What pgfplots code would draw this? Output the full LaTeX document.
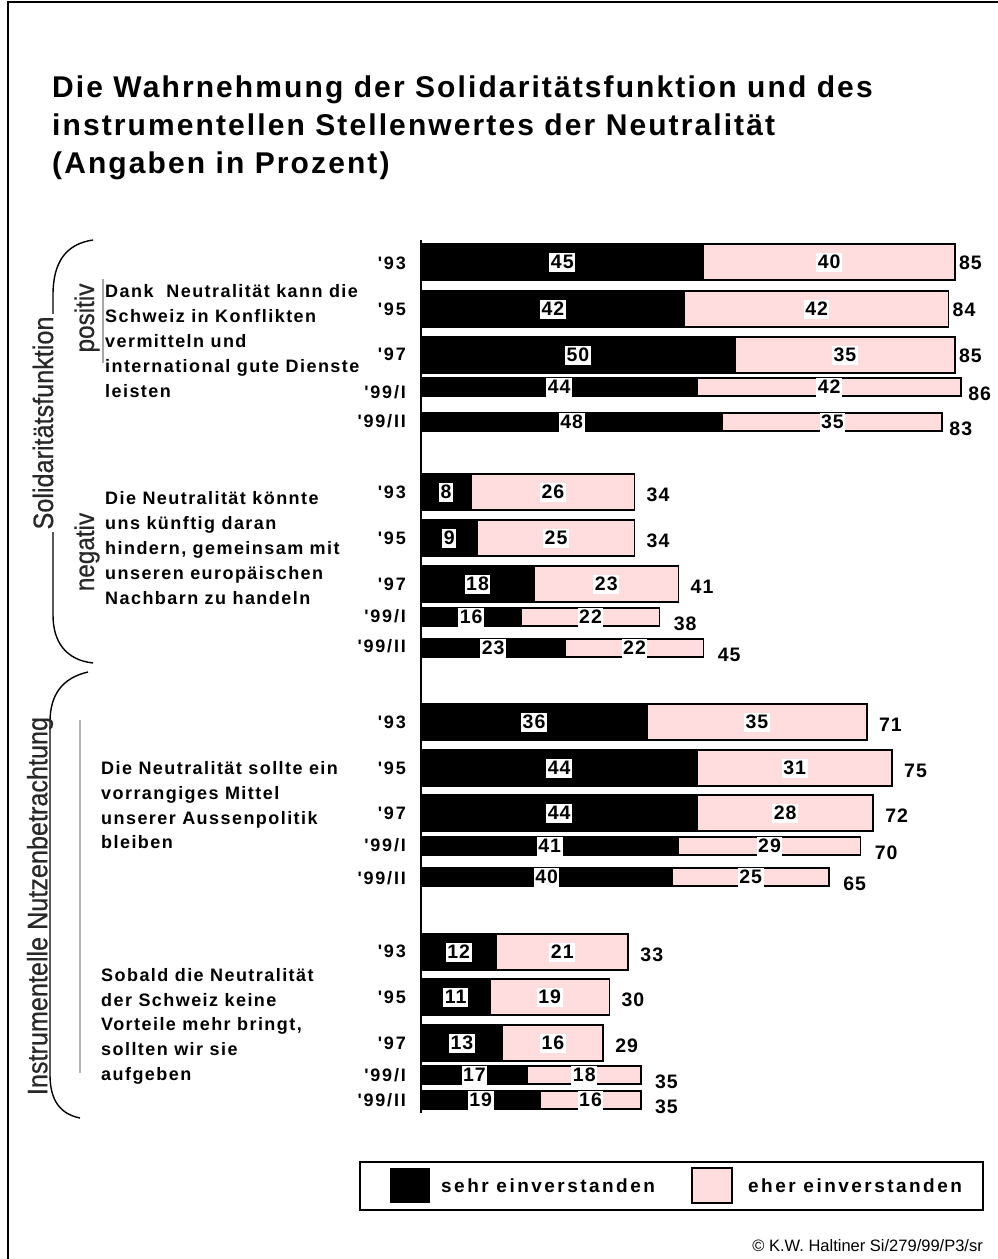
\documentclass[border=0pt]{standalone}
\usepackage{pgfplots}
\pgfplotsset{compat=1.18}
\usepackage{fontspec}
\setmainfont{Liberation Sans}
\newfontfamily\lspT[LetterSpace=7]{Liberation Sans}
\newfontfamily\lspQ[LetterSpace=8]{Liberation Sans}
\newfontfamily\lspY[LetterSpace=10,Ligatures=TeXOff]{Liberation Sans}
\newfontfamily\lspL[LetterSpace=13]{Liberation Sans}
\newfontfamily\lspB[LetterSpace=5]{Liberation Sans}
\newfontfamily\narrow[FakeStretch=0.9,FakeBold=0.6]{Liberation Sans}
\definecolor{rosa}{RGB}{255,221,222}
\definecolor{dgrey}{RGB}{40,40,40}
\newcommand\numfont{\lspB\bfseries\fontsize{19.5}{19.5}\selectfont}
\newcommand\yrfont{\lspY\bfseries\fontsize{18}{18}\selectfont}
\newcommand\qfont{\lspQ\bfseries\fontsize{18}{25}\selectfont}

\pgfplotsset{
  pinkbar/.style={xbar, bar shift=0pt, fill=rosa, draw=black, line width=1.6pt},
  blackbar/.style={xbar, bar shift=0pt, fill=black, draw=black, line width=0.6pt},
  lab/.style={only marks, mark=*, mark size=0.01pt, mark options={draw=none, fill=none},
    nodes near coords, point meta=explicit symbolic},
  inner/.style={lab, nodes near coords style={font=\numfont, anchor=center, fill=white,
    inner xsep=1.5pt, inner ysep=2pt, text height=14pt, text depth=1pt}},
  total/.style={lab, nodes near coords style={font=\numfont, anchor=west, inner sep=0pt,
    text height=14pt, text depth=0pt, #1}},
}

\begin{document}
\begin{tikzpicture}[x=1pt,y=1pt]
\useasboundingbox (0,0) rectangle (997,1259);
\begin{axis}[
  at={(0,0)}, anchor=south west,
  scale only axis, width=997pt, height=1259pt,
  xmin=-67.04, xmax=91.72, ymin=0, ymax=1259, y dir=reverse,
  hide axis, clip=false,
]
% full rows: total (pink) first, "sehr" (black) drawn over it
\addplot[pinkbar, bar width=36] coordinates {
  (85,262) (84,309) (85,355)
  (34,492) (34,538) (41,584)
  (71,722) (75,768) (72,813)
  (33,952) (30,997) (29,1043)};
\addplot[blackbar, bar width=36] coordinates {
  (45,262) (42,309) (50,355)
  (8,492) (9,538) (18,584)
  (36,722) (44,768) (44,813)
  (12,952) (11,997) (13,1043)};
% thin rows ('99/I, '99/II)
\addplot[pinkbar, bar width=18] coordinates {
  (86,387) (83,422) (38,617) (45,648) (70,846) (65,877) (35,1075) (35,1100)};
\addplot[blackbar, bar width=18] coordinates {
  (44,387) (48,422) (16,617) (23,648) (41,846) (40,877) (17,1075) (19,1100)};

% values inside the segments
\addplot[inner] coordinates {
  (22.5,262) [45] (65,262) [40]
  (21,309) [42] (63,309) [42]
  (25,355) [50] (67.5,355) [35]
  (22,387) [44] (65,387) [42]
  (24,422) [48] (65.5,422) [35]
  (4,492) [8] (21,492) [26]
  (4.5,538) [9] (21.5,538) [25]
  (9,584) [18] (29.5,584) [23]
  (8,617) [16] (27,617) [22]
  (11.5,648) [23] (34,648) [22]
  (18,722) [36] (53.5,722) [35]
  (22,768) [44] (59.5,768) [31]
  (22,813) [44] (58,813) [28]
  (20.5,846) [41] (55.5,846) [29]
  (20,877) [40] (52.5,877) [25]
  (6,952) [12] (22.5,952) [21]
  (5.5,997) [11] (20.5,997) [19]
  (6.5,1043) [13] (21,1043) [16]
  (8.5,1075) [17] (26,1075) [18]
  (9.5,1100) [19] (27,1100) [16]};

% totals
\addplot[total={xshift=4pt}] coordinates {(85,262) [85] (84,309) [84] (85,355) [85]};
\addplot[total={xshift=7pt, yshift=-6pt}] coordinates {(86,387) [86] (83,422) [83]};
\addplot[total={xshift=12pt, yshift=-2pt}] coordinates {
  (34,492) [34] (34,538) [34] (41,584) [41]
  (71,722) [71] (75,768) [75] (72,813) [72]
  (33,952) [33] (30,997) [30] (29,1043) [29]};
\addplot[total={xshift=14pt, yshift=-6pt}] coordinates {
  (38,617) [38] (45,648) [45] (70,846) [70] (65,877) [65] (35,1075) [35] (35,1100) [35]};

% survey waves
\addplot[lab, nodes near coords style={font=\yrfont, anchor=east, xshift=-15pt, inner sep=0pt,
    text height=13pt, text depth=0pt}] coordinates {
  (0,263) ['93] (0,309) ['95] (0,354) ['97] (0,392) ['99/I] (0,421) ['99/II]
  (0,492) ['93] (0,538) ['95] (0,584) ['97] (0,616) ['99/I] (0,646) ['99/II]
  (0,722) ['93] (0,768) ['95] (0,813) ['97] (0,845) ['99/I] (0,878) ['99/II]
  (0,951) ['93] (0,997) ['95] (0,1043) ['97] (0,1075) ['99/I] (0,1100) ['99/II]};
\end{axis}

\begin{scope}[shift={(0,1259)}, y=-1pt]
% frame
\draw[line width=1.5] (8,1600) -- (8,2) -- (1200,2);
% title
\foreach \t/\yy in {{Die Wahrnehmung der Solidaritätsfunktion und des}/98,
                    {instrumentellen Stellenwertes der Neutralität}/136,
                    {(Angaben in Prozent)}/174}
  \node[anchor=base west, inner sep=0pt, font=\lspT\bfseries\fontsize{30}{30}\selectfont] at (52,\yy) {\t};
% zero line
\draw[line width=1.5] (421,240) -- (421,1113);
% question texts
\foreach \t/\yy in {{Dank\ \ Neutralität kann die}/298, {Schweiz in Konflikten}/323,
    {vermitteln und}/348, {international gute Dienste}/373, {leisten}/398,
    {Die Neutralität könnte}/505, {uns künftig daran}/530, {hindern, gemeinsam mit}/555,
    {unseren europäischen}/580, {Nachbarn zu handeln}/605}
  \node[anchor=base west, inner sep=0pt, font=\qfont] at (105,\yy) {\t};
\foreach \t/\yy in {{Die Neutralität sollte ein}/775, {vorrangiges Mittel}/800,
    {unserer Aussenpolitik}/825, {bleiben}/849,
    {Sobald die Neutralität}/982, {der Schweiz keine}/1007, {Vorteile mehr bringt,}/1031,
    {sollten wir sie}/1056, {aufgeben}/1081}
  \node[anchor=base west, inner sep=0pt, font=\qfont] at (101,\yy) {\t};
% brackets and side labels
\draw[line width=1.4] (93,240) .. controls (66,244) and (53,262) .. (53,295) -- (53,615)
  .. controls (53,642) and (66,660) .. (93,663);
\node[rotate=90, fill=white, inner sep=3pt, text=dgrey, font=\narrow\fontsize{28}{28}\selectfont]
  at (43,423) {Solidaritätsfunktion};
\draw[gray!70, line width=2] (103,279) -- (103,363);
\node[rotate=90, inner sep=0pt, text=dgrey, font=\narrow\fontsize{27}{27}\selectfont] at (87,318) {positiv};
\node[rotate=90, inner sep=0pt, text=dgrey, font=\narrow\fontsize{27}{27}\selectfont] at (87,552) {negativ};
\draw[line width=1.4] (88,672) .. controls (62,678) and (50,695) .. (50,722) -- (50,1075)
  .. controls (50,1100) and (60,1114) .. (80,1118);
\node[rotate=90, inner sep=0pt, text=dgrey, font=\narrow\fontsize{28}{28}\selectfont]
  at (40,906) {Instrumentelle Nutzenbetrachtung};
\draw[gray!60, line width=2] (80,720) -- (80,1073);
% legend
\draw[line width=1.5] (360,1162) rectangle (983,1210);
\fill[black] (390,1168) rectangle (430,1203);
\node[anchor=base west, inner sep=0pt, font=\lspL\bfseries\fontsize{19}{19}\selectfont] at (441,1193) {sehr einverstanden};
\draw[fill=rosa, line width=1.2] (692,1168) rectangle (732,1203);
\node[anchor=base west, inner sep=0pt, font=\lspL\bfseries\fontsize{19}{19}\selectfont] at (748,1193) {eher einverstanden};
% source
\node[anchor=base east, inner sep=0pt, font=\fontsize{16.5}{16.5}\selectfont] at (983,1251) {© K.W. Haltiner Si/279/99/P3/sr};
\end{scope}
\end{tikzpicture}
\end{document}
